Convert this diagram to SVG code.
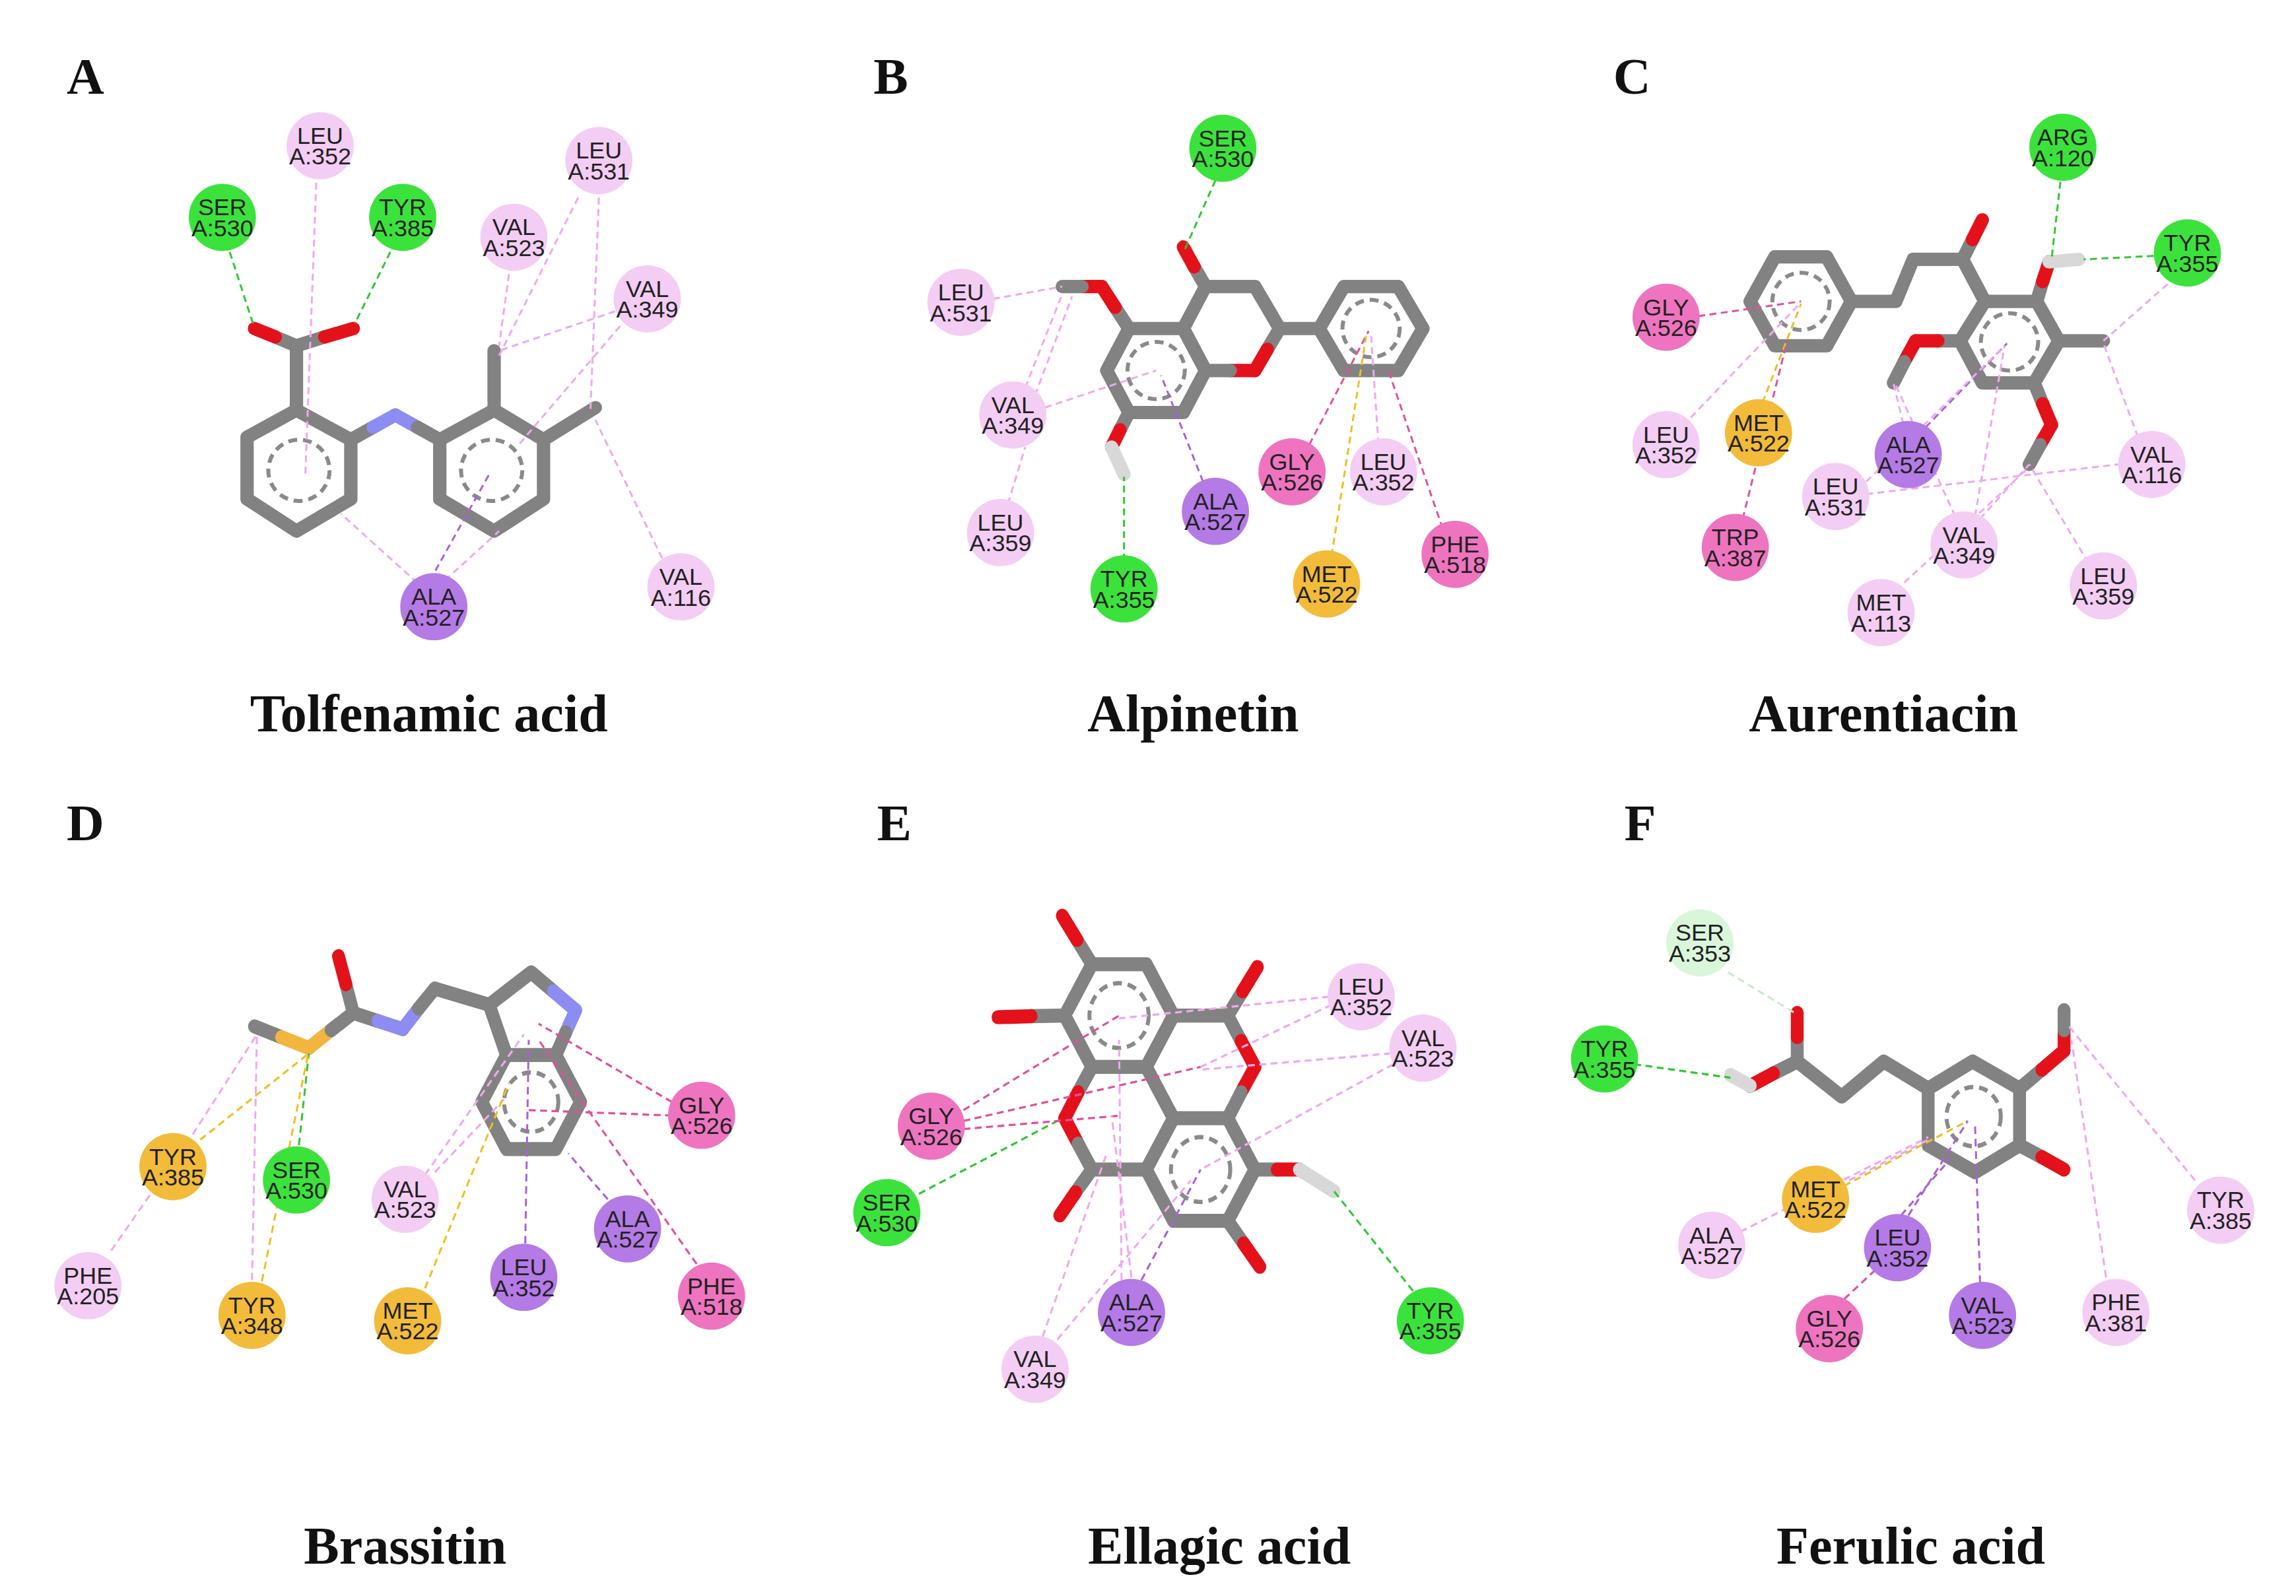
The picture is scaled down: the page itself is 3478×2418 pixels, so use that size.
<svg xmlns="http://www.w3.org/2000/svg" width="3478" height="2418" viewBox="0 0 3478 2418">
<style>
.stk{fill:none;stroke-linecap:round;stroke-linejoin:round}
.top .stk{stroke-width:27}.bot .stk{stroke-width:26}
.gy{stroke:#828282}.rd{stroke:#e3121a}.bl{stroke:#8c8cf2}.yl{stroke:#f2b640}.hh{stroke:#d8d8d8}
.ar{fill:none;stroke:#8a8a8a;stroke-dasharray:18 12;stroke-width:8}
.c{fill:none;stroke-dasharray:14 9;stroke-width:4}
.cg{stroke:#30c830}.cp{stroke:#f0a8ee}.cv{stroke:#a860dc}.ch{stroke:#e0509c}.co{stroke:#eec020}.cl{stroke:#c8ecc8}
.res text{font-family:"Liberation Sans",Arial,sans-serif;fill:#222;text-anchor:middle;font-size:48px}
.fg{fill:#3ce23c}.fp{fill:#f3cdf3}.fv{fill:#b47ae6}.fh{fill:#ee74bf}.fo{fill:#f2bb3a}.fl{fill:#daf6da}
.ttl{font-family:"Liberation Serif","Times New Roman",serif;font-weight:bold;fill:#111;text-anchor:middle;font-size:107px}
.let{font-family:"Liberation Serif","Times New Roman",serif;font-weight:bold;fill:#111;font-size:105px}
</style>
<rect width="3478" height="2418" fill="#fff"/>

<!-- Panel A -->
<g id="panelA" class="top" transform="translate(0,0) scale(0.7485)">
<text class="let" x="135" y="190">A</text>
<text class="ttl" x="868" y="1480">Tolfenamic acid</text>
<g id="molA">
<polygon class="stk gy" points="600,830 710,890 710,1010 600,1075 500,1010 500,885"/>
<polygon class="stk gy" points="890,890 1000,830 1100,890 1100,1010 1000,1075 890,1010"/>
<circle class="ar" cx="605" cy="952" r="62"/><circle class="ar" cx="995" cy="952" r="62"/>
<line class="stk gy" x1="600" y1="830" x2="600" y2="700"/>
<line class="stk gy" x1="600" y1="700" x2="557" y2="682"/><line class="stk rd" x1="557" y1="682" x2="515" y2="665"/>
<line class="stk gy" x1="600" y1="700" x2="657" y2="682"/><line class="stk rd" x1="657" y1="682" x2="715" y2="665"/>
<line class="stk gy" x1="710" y1="890" x2="755" y2="865"/><line class="stk bl" x1="755" y1="865" x2="800" y2="840"/>
<line class="stk bl" x1="800" y1="840" x2="845" y2="865"/><line class="stk gy" x1="845" y1="865" x2="890" y2="890"/>
<line class="stk gy" x1="1000" y1="830" x2="1000" y2="710"/>
<line class="stk gy" x1="1100" y1="890" x2="1205" y2="825"/>
</g>
<g id="connA">
<line class="c cg" x1="465" y1="510" x2="512" y2="655"/>
<line class="c cg" x1="790" y1="510" x2="718" y2="655"/>
<line class="c cp" x1="640" y1="370" x2="618" y2="960"/>
<line class="c cp" x1="1030" y1="555" x2="1010" y2="700"/>
<line class="c cp" x1="1170" y1="400" x2="1010" y2="720"/>
<line class="c cp" x1="1212" y1="400" x2="1195" y2="830"/>
<line class="c cp" x1="1245" y1="630" x2="1010" y2="710"/>
<line class="c cp" x1="1255" y1="660" x2="1050" y2="900"/>
<line class="c cp" x1="845" y1="1180" x2="690" y2="1040"/>
<line class="c cv" x1="870" y1="1175" x2="990" y2="960"/>
<line class="c cp" x1="900" y1="1175" x2="1010" y2="1075"/>
<line class="c cp" x1="1340" y1="1130" x2="1205" y2="850"/>
</g>
<g id="A-LEU352" class="res" transform="translate(648,295)"><circle class="fp" r="68"/><text y="-4">LEU</text><text y="38">A:352</text></g>
<g id="A-SER530" class="res" transform="translate(450,440)"><circle class="fg" r="68"/><text y="-4">SER</text><text y="38">A:530</text></g>
<g id="A-TYR385" class="res" transform="translate(815,440)"><circle class="fg" r="68"/><text y="-4">TYR</text><text y="38">A:385</text></g>
<g id="A-VAL523" class="res" transform="translate(1040,480)"><circle class="fp" r="68"/><text y="-4">VAL</text><text y="38">A:523</text></g>
<g id="A-LEU531" class="res" transform="translate(1212,325)"><circle class="fp" r="68"/><text y="-4">LEU</text><text y="38">A:531</text></g>
<g id="A-VAL349" class="res" transform="translate(1310,605)"><circle class="fp" r="68"/><text y="-4">VAL</text><text y="38">A:349</text></g>
<g id="A-ALA527" class="res" transform="translate(878,1228)"><circle class="fv" r="68"/><text y="-4">ALA</text><text y="38">A:527</text></g>
<g id="A-VAL116" class="res" transform="translate(1378,1188)"><circle class="fp" r="68"/><text y="-4">VAL</text><text y="38">A:116</text></g>
</g>

<!-- Panel B -->
<g id="panelB" class="top" transform="translate(1160,0) scale(0.7485)">
<text class="let" x="218" y="190">B</text>
<text class="ttl" x="865" y="1480">Alpinetin</text>
<g id="molB">
<polygon class="stk gy" points="735,665 845,665 890,750 845,835 735,835 690,750"/>
<polyline class="stk gy" points="890,750 845,665 890,580 990,580 1040,665"/>
<line class="stk gy" x1="1040" y1="665" x2="1015" y2="707"/><line class="stk rd" x1="1015" y1="707" x2="990" y2="750"/>
<line class="stk rd" x1="990" y1="750" x2="940" y2="750"/><line class="stk gy" x1="940" y1="750" x2="890" y2="750"/>
<polygon class="stk gy" points="1120,665 1170,580 1280,580 1330,665 1280,750 1170,750"/>
<line class="stk gy" x1="1040" y1="665" x2="1120" y2="665"/>
<line class="stk gy" x1="890" y1="580" x2="867" y2="540"/><line class="stk rd" x1="867" y1="540" x2="845" y2="500"/>
<line class="stk gy" x1="735" y1="665" x2="707" y2="622"/><line class="stk rd" x1="707" y1="622" x2="680" y2="580"/>
<line class="stk rd" x1="680" y1="580" x2="640" y2="580"/><line class="stk gy" x1="640" y1="580" x2="600" y2="580"/>
<line class="stk gy" x1="735" y1="835" x2="717" y2="870"/><line class="stk rd" x1="717" y1="870" x2="700" y2="905"/>
<line class="stk hh" x1="700" y1="905" x2="725" y2="960"/>
<circle class="ar" cx="790" cy="750" r="58"/><circle class="ar" cx="1225" cy="665" r="58"/>
</g>
<g id="connB">
<line class="c cg" x1="910" y1="365" x2="848" y2="505"/>
<line class="c cg" x1="725" y1="1135" x2="725" y2="965"/>
<line class="c cp" x1="460" y1="605" x2="600" y2="580"/>
<line class="c cp" x1="525" y1="785" x2="600" y2="595"/>
<line class="c cp" x1="545" y1="800" x2="620" y2="600"/>
<line class="c cp" x1="565" y1="825" x2="790" y2="750"/>
<line class="c cp" x1="490" y1="1020" x2="525" y2="905"/>
<line class="c cv" x1="885" y1="975" x2="800" y2="760"/>
<line class="c ch" x1="1100" y1="900" x2="1220" y2="670"/>
<line class="c cp" x1="1240" y1="900" x2="1225" y2="680"/>
<line class="c co" x1="1145" y1="1125" x2="1215" y2="680"/>
<line class="c ch" x1="1370" y1="1070" x2="1260" y2="750"/>
</g>
<g id="B-SER530" class="res" transform="translate(925,300)"><circle class="fg" r="68"/><text y="-4">SER</text><text y="38">A:530</text></g>
<g id="B-LEU531" class="res" transform="translate(395,612)"><circle class="fp" r="68"/><text y="-4">LEU</text><text y="38">A:531</text></g>
<g id="B-VAL349" class="res" transform="translate(500,840)"><circle class="fp" r="68"/><text y="-4">VAL</text><text y="38">A:349</text></g>
<g id="B-LEU359" class="res" transform="translate(475,1078)"><circle class="fp" r="68"/><text y="-4">LEU</text><text y="38">A:359</text></g>
<g id="B-TYR355" class="res" transform="translate(725,1192)"><circle class="fg" r="68"/><text y="-4">TYR</text><text y="38">A:355</text></g>
<g id="B-ALA527" class="res" transform="translate(910,1035)"><circle class="fv" r="68"/><text y="-4">ALA</text><text y="38">A:527</text></g>
<g id="B-GLY526" class="res" transform="translate(1065,955)"><circle class="fh" r="68"/><text y="-4">GLY</text><text y="38">A:526</text></g>
<g id="B-LEU352" class="res" transform="translate(1250,955)"><circle class="fp" r="68"/><text y="-4">LEU</text><text y="38">A:352</text></g>
<g id="B-MET522" class="res" transform="translate(1135,1182)"><circle class="fo" r="68"/><text y="-4">MET</text><text y="38">A:522</text></g>
<g id="B-PHE518" class="res" transform="translate(1395,1122)"><circle class="fh" r="68"/><text y="-4">PHE</text><text y="38">A:518</text></g>
</g>

<!-- Panel C -->
<g id="panelC" class="top" transform="translate(2318,0) scale(0.7485)">
<text class="let" x="168" y="190">C</text>
<text class="ttl" x="715" y="1480">Aurentiacin</text>
<g id="molC">
<polygon class="stk gy" points="495,520 600,520 650,610 600,700 495,700 445,610"/>
<polyline class="stk gy" points="650,610 740,610 775,525 875,525 920,610"/>
<line class="stk gy" x1="875" y1="525" x2="895" y2="485"/><line class="stk rd" x1="895" y1="485" x2="915" y2="445"/>
<polygon class="stk gy" points="920,610 1025,610 1070,690 1020,775 915,775 870,690"/>
<line class="stk gy" x1="1025" y1="610" x2="1037" y2="570"/><line class="stk rd" x1="1037" y1="570" x2="1050" y2="530"/>
<line class="stk hh" x1="1050" y1="530" x2="1110" y2="525"/>
<line class="stk gy" x1="1070" y1="690" x2="1160" y2="690"/>
<line class="stk gy" x1="1020" y1="775" x2="1037" y2="817"/><line class="stk rd" x1="1037" y1="817" x2="1055" y2="860"/>
<line class="stk rd" x1="1055" y1="860" x2="1032" y2="900"/><line class="stk gy" x1="1032" y1="900" x2="1010" y2="940"/>
<line class="stk gy" x1="870" y1="690" x2="825" y2="690"/><line class="stk rd" x1="825" y1="690" x2="780" y2="690"/>
<line class="stk rd" x1="780" y1="690" x2="757" y2="732"/><line class="stk gy" x1="757" y1="732" x2="735" y2="775"/>
<circle class="ar" cx="548" cy="610" r="58"/><circle class="ar" cx="970" cy="692" r="58"/>
</g>
<g id="connC">
<line class="c cg" x1="1073" y1="368" x2="1055" y2="525"/>
<line class="c cg" x1="1262" y1="518" x2="1120" y2="525"/>
<line class="c cp" x1="1290" y1="575" x2="1160" y2="690"/>
<line class="c ch" x1="340" y1="640" x2="548" y2="610"/>
<line class="c cp" x1="325" y1="845" x2="548" y2="612"/>
<line class="c co" x1="470" y1="815" x2="548" y2="615"/>
<line class="c ch" x1="430" y1="1050" x2="520" y2="690"/>
<line class="c cv" x1="800" y1="865" x2="965" y2="695"/>
<line class="c cp" x1="755" y1="858" x2="735" y2="775"/>
<line class="c cp" x1="680" y1="975" x2="960" y2="700"/>
<line class="c cp" x1="680" y1="1000" x2="1190" y2="940"/>
<line class="c cp" x1="900" y1="1045" x2="960" y2="700"/>
<line class="c cp" x1="910" y1="1050" x2="1010" y2="940"/>
<line class="c cp" x1="860" y1="1045" x2="740" y2="780"/>
<line class="c cp" x1="1230" y1="885" x2="1160" y2="695"/>
<line class="c cp" x1="1130" y1="1140" x2="1010" y2="940"/>
<line class="c cp" x1="740" y1="1195" x2="1010" y2="945"/>
</g>
<g id="C-ARG120" class="res" transform="translate(1078,298)"><circle class="fg" r="68"/><text y="-4">ARG</text><text y="38">A:120</text></g>
<g id="C-TYR355" class="res" transform="translate(1330,512)"><circle class="fg" r="68"/><text y="-4">TYR</text><text y="38">A:355</text></g>
<g id="C-GLY526" class="res" transform="translate(275,642)"><circle class="fh" r="68"/><text y="-4">GLY</text><text y="38">A:526</text></g>
<g id="C-LEU352" class="res" transform="translate(275,900)"><circle class="fp" r="68"/><text y="-4">LEU</text><text y="38">A:352</text></g>
<g id="C-MET522" class="res" transform="translate(462,876)"><circle class="fo" r="68"/><text y="-4">MET</text><text y="38">A:522</text></g>
<g id="C-ALA527" class="res" transform="translate(765,920)"><circle class="fv" r="68"/><text y="-4">ALA</text><text y="38">A:527</text></g>
<g id="C-LEU531" class="res" transform="translate(618,1005)"><circle class="fp" r="68"/><text y="-4">LEU</text><text y="38">A:531</text></g>
<g id="C-TRP387" class="res" transform="translate(415,1108)"><circle class="fh" r="68"/><text y="-4">TRP</text><text y="38">A:387</text></g>
<g id="C-VAL349" class="res" transform="translate(878,1103)"><circle class="fp" r="68"/><text y="-4">VAL</text><text y="38">A:349</text></g>
<g id="C-VAL116" class="res" transform="translate(1258,940)"><circle class="fp" r="68"/><text y="-4">VAL</text><text y="38">A:116</text></g>
<g id="C-LEU359" class="res" transform="translate(1160,1186)"><circle class="fp" r="68"/><text y="-4">LEU</text><text y="38">A:359</text></g>
<g id="C-MET113" class="res" transform="translate(710,1240)"><circle class="fp" r="68"/><text y="-4">MET</text><text y="38">A:113</text></g>
</g>

<!-- Panel D -->
<g id="panelD">
<g class="bot" transform="translate(0,1150) scale(0.7485,0.8183)">
<g id="molD">
<line class="stk gy" x1="515" y1="495" x2="570" y2="515"/><line class="stk yl" x1="570" y1="515" x2="625" y2="535"/>
<line class="stk yl" x1="625" y1="535" x2="670" y2="502"/><line class="stk gy" x1="670" y1="502" x2="715" y2="470"/>
<line class="stk gy" x1="715" y1="470" x2="700" y2="417"/><line class="stk rd" x1="700" y1="417" x2="685" y2="365"/>
<line class="stk gy" x1="715" y1="470" x2="765" y2="485"/><line class="stk bl" x1="765" y1="485" x2="815" y2="500"/>
<line class="stk bl" x1="815" y1="500" x2="847" y2="462"/><line class="stk gy" x1="847" y1="462" x2="880" y2="425"/>
<polyline class="stk gy" points="880,425 990,455 1075,395 1120,430"/>
<line class="stk bl" x1="1120" y1="430" x2="1165" y2="465"/>
<line class="stk bl" x1="1165" y1="465" x2="1145" y2="506"/><line class="stk gy" x1="1145" y1="506" x2="1125" y2="548"/>
<line class="stk gy" x1="990" y1="455" x2="1025" y2="548"/>
<polygon class="stk gy" points="975,635 1025,548 1125,548 1175,635 1125,722 1025,722"/>
<circle class="ar" cx="1075" cy="635" r="55"/>
</g>
<g id="connD">
<line class="c cp" x1="390" y1="695" x2="520" y2="510"/>
<line class="c co" x1="405" y1="705" x2="625" y2="545"/>
<line class="c cg" x1="605" y1="715" x2="625" y2="545"/>
<line class="c cp" x1="510" y1="965" x2="520" y2="510"/>
<line class="c co" x1="530" y1="967" x2="625" y2="540"/>
<line class="c cp" x1="225" y1="910" x2="305" y2="805"/>
<line class="c cp" x1="860" y1="770" x2="1060" y2="510"/>
<line class="c cp" x1="880" y1="765" x2="1020" y2="630"/>
<line class="c co" x1="860" y1="980" x2="1030" y2="600"/>
<line class="c cv" x1="1063" y1="897" x2="1070" y2="520"/>
<line class="c cv" x1="1230" y1="815" x2="1150" y2="730"/>
<line class="c ch" x1="1360" y1="635" x2="1090" y2="490"/>
<line class="c ch" x1="1360" y1="660" x2="1070" y2="650"/>
<line class="c ch" x1="1410" y1="935" x2="1090" y2="520"/>
</g>
</g>
<g class="top" transform="translate(0,1150) scale(0.7485)">
<text class="let" x="135" y="164">D</text>
<text class="ttl" x="820" y="1628">Brassitin</text>
<g id="D-TYR385" class="res" transform="translate(350,825)"><circle class="fo" r="68"/><text y="-4">TYR</text><text y="38">A:385</text></g>
<g id="D-SER530" class="res" transform="translate(600,852)"><circle class="fg" r="68"/><text y="-4">SER</text><text y="38">A:530</text></g>
<g id="D-PHE205" class="res" transform="translate(178,1066)"><circle class="fp" r="68"/><text y="-4">PHE</text><text y="38">A:205</text></g>
<g id="D-TYR348" class="res" transform="translate(510,1126)"><circle class="fo" r="68"/><text y="-4">TYR</text><text y="38">A:348</text></g>
<g id="D-VAL523" class="res" transform="translate(820,891)"><circle class="fp" r="68"/><text y="-4">VAL</text><text y="38">A:523</text></g>
<g id="D-MET522" class="res" transform="translate(825,1137)"><circle class="fo" r="68"/><text y="-4">MET</text><text y="38">A:522</text></g>
<g id="D-LEU352" class="res" transform="translate(1060,1049)"><circle class="fv" r="68"/><text y="-4">LEU</text><text y="38">A:352</text></g>
<g id="D-ALA527" class="res" transform="translate(1270,951)"><circle class="fv" r="68"/><text y="-4">ALA</text><text y="38">A:527</text></g>
<g id="D-GLY526" class="res" transform="translate(1420,721)"><circle class="fh" r="68"/><text y="-4">GLY</text><text y="38">A:526</text></g>
<g id="D-PHE518" class="res" transform="translate(1440,1087)"><circle class="fh" r="68"/><text y="-4">PHE</text><text y="38">A:518</text></g>
</g>
</g>

<!-- Panel E -->
<g id="panelE">
<g class="bot" transform="translate(1160,1150) scale(0.7485,0.8183)">
<g id="molE">
<polygon class="stk gy" points="660,380 770,380 825,475 770,570 660,570 605,475"/>
<polygon class="stk gy" points="825,665 935,665 990,760 935,855 825,855 770,760"/>
<line class="stk gy" x1="825" y1="475" x2="935" y2="475"/>
<line class="stk gy" x1="935" y1="475" x2="962" y2="522"/><line class="stk rd" x1="962" y1="522" x2="990" y2="570"/>
<line class="stk rd" x1="990" y1="570" x2="962" y2="617"/><line class="stk gy" x1="962" y1="617" x2="935" y2="665"/>
<line class="stk gy" x1="770" y1="570" x2="825" y2="665"/>
<line class="stk gy" x1="660" y1="570" x2="632" y2="617"/><line class="stk rd" x1="632" y1="617" x2="605" y2="665"/>
<line class="stk rd" x1="605" y1="665" x2="632" y2="712"/><line class="stk gy" x1="632" y1="712" x2="660" y2="760"/>
<line class="stk gy" x1="660" y1="760" x2="770" y2="760"/>
<line class="stk gy" x1="660" y1="380" x2="630" y2="335"/><line class="stk rd" x1="630" y1="335" x2="600" y2="290"/>
<line class="stk gy" x1="605" y1="475" x2="537" y2="476"/><line class="stk rd" x1="537" y1="476" x2="470" y2="478"/>
<line class="stk gy" x1="935" y1="475" x2="965" y2="430"/><line class="stk rd" x1="965" y1="430" x2="995" y2="385"/>
<line class="stk gy" x1="660" y1="760" x2="627" y2="802"/><line class="stk rd" x1="627" y1="802" x2="595" y2="845"/>
<line class="stk gy" x1="990" y1="760" x2="1035" y2="760"/><line class="stk rd" x1="1035" y1="760" x2="1080" y2="760"/>
<line class="stk hh" x1="1080" y1="760" x2="1150" y2="800"/>
<line class="stk gy" x1="935" y1="855" x2="967" y2="897"/><line class="stk rd" x1="967" y1="897" x2="1000" y2="940"/>
<circle class="ar" cx="715" cy="475" r="60"/><circle class="ar" cx="880" cy="760" r="60"/>
</g>
<g id="connE">
<line class="c cg" x1="1310" y1="985" x2="1150" y2="800"/>
<line class="c cg" x1="310" y1="805" x2="590" y2="670"/>
<line class="c ch" x1="400" y1="650" x2="715" y2="475"/>
<line class="c ch" x1="400" y1="670" x2="880" y2="570"/>
<line class="c ch" x1="400" y1="685" x2="720" y2="660"/>
<line class="c cp" x1="1140" y1="440" x2="715" y2="480"/>
<line class="c cp" x1="1145" y1="455" x2="880" y2="570"/>
<line class="c cp" x1="1265" y1="545" x2="880" y2="575"/>
<line class="c cp" x1="1270" y1="565" x2="880" y2="760"/>
<line class="c cp" x1="720" y1="965" x2="715" y2="520"/>
<line class="c cv" x1="760" y1="965" x2="880" y2="760"/>
<line class="c cp" x1="740" y1="960" x2="700" y2="660"/>
<line class="c cp" x1="560" y1="1070" x2="690" y2="730"/>
<line class="c cp" x1="590" y1="1075" x2="860" y2="780"/>
</g>
</g>
<g class="top" transform="translate(1160,1150) scale(0.7485)">
<text class="let" x="225" y="164">E</text>
<text class="ttl" x="918" y="1628">Ellagic acid</text>
<g id="E-LEU352" class="res" transform="translate(1205,481)"><circle class="fp" r="68"/><text y="-4">LEU</text><text y="38">A:352</text></g>
<g id="E-VAL523" class="res" transform="translate(1330,585)"><circle class="fp" r="68"/><text y="-4">VAL</text><text y="38">A:523</text></g>
<g id="E-GLY526" class="res" transform="translate(335,743)"><circle class="fh" r="68"/><text y="-4">GLY</text><text y="38">A:526</text></g>
<g id="E-SER530" class="res" transform="translate(245,918)"><circle class="fg" r="68"/><text y="-4">SER</text><text y="38">A:530</text></g>
<g id="E-ALA527" class="res" transform="translate(740,1120)"><circle class="fv" r="68"/><text y="-4">ALA</text><text y="38">A:527</text></g>
<g id="E-VAL349" class="res" transform="translate(545,1235)"><circle class="fp" r="68"/><text y="-4">VAL</text><text y="38">A:349</text></g>
<g id="E-TYR355" class="res" transform="translate(1345,1137)"><circle class="fg" r="68"/><text y="-4">TYR</text><text y="38">A:355</text></g>
</g>
</g>

<!-- Panel F -->
<g id="panelF">
<g class="bot" transform="translate(2322,1150) scale(0.7485,0.8183)">
<g id="molF">
<line class="stk gy" x1="535" y1="560" x2="535" y2="515"/><line class="stk rd" x1="535" y1="515" x2="535" y2="470"/>
<line class="stk gy" x1="535" y1="560" x2="487" y2="582"/><line class="stk rd" x1="487" y1="582" x2="440" y2="605"/>
<line class="stk hh" x1="440" y1="605" x2="400" y2="585"/>
<polyline class="stk gy" points="535,560 625,625 710,560 800,610"/>
<polygon class="stk gy" points="800,610 890,560 985,610 985,715 895,765 800,715"/>
<line class="stk gy" x1="985" y1="610" x2="1030" y2="575"/><line class="stk rd" x1="1030" y1="575" x2="1075" y2="540"/>
<line class="stk rd" x1="1075" y1="540" x2="1075" y2="502"/><line class="stk gy" x1="1075" y1="502" x2="1075" y2="465"/>
<line class="stk gy" x1="985" y1="715" x2="1030" y2="737"/><line class="stk rd" x1="1030" y1="737" x2="1075" y2="760"/>
<circle class="ar" cx="892" cy="662" r="55"/>
</g>
<g id="connF">
<line class="c cl" x1="395" y1="395" x2="530" y2="470"/>
<line class="c cg" x1="205" y1="565" x2="400" y2="590"/>
<line class="c co" x1="630" y1="790" x2="880" y2="670"/>
<line class="c cp" x1="640" y1="780" x2="800" y2="705"/>
<line class="c cp" x1="420" y1="875" x2="800" y2="700"/>
<line class="c cv" x1="760" y1="845" x2="880" y2="670"/>
<line class="c cv" x1="745" y1="845" x2="845" y2="740"/>
<line class="c ch" x1="630" y1="1000" x2="700" y2="940"/>
<line class="c cv" x1="905" y1="970" x2="895" y2="680"/>
<line class="c cp" x1="1160" y1="960" x2="1090" y2="520"/>
<line class="c cp" x1="1340" y1="780" x2="1085" y2="495"/>
</g>
</g>
<g class="top" transform="translate(2322,1150) scale(0.7485)">
<text class="let" x="185" y="164">F</text>
<text class="ttl" x="765" y="1628">Ferulic acid</text>
<g id="F-SER353" class="res" transform="translate(338,372)"><circle class="fl" r="68"/><text y="-4">SER</text><text y="38">A:353</text></g>
<g id="F-TYR355" class="res" transform="translate(145,607)"><circle class="fg" r="68"/><text y="-4">TYR</text><text y="38">A:355</text></g>
<g id="F-MET522" class="res" transform="translate(572,891)"><circle class="fo" r="68"/><text y="-4">MET</text><text y="38">A:522</text></g>
<g id="F-ALA527" class="res" transform="translate(362,984)"><circle class="fp" r="68"/><text y="-4">ALA</text><text y="38">A:527</text></g>
<g id="F-LEU352" class="res" transform="translate(738,989)"><circle class="fv" r="68"/><text y="-4">LEU</text><text y="38">A:352</text></g>
<g id="F-GLY526" class="res" transform="translate(600,1153)"><circle class="fh" r="68"/><text y="-4">GLY</text><text y="38">A:526</text></g>
<g id="F-VAL523" class="res" transform="translate(910,1126)"><circle class="fv" r="68"/><text y="-4">VAL</text><text y="38">A:523</text></g>
<g id="F-PHE381" class="res" transform="translate(1180,1120)"><circle class="fp" r="68"/><text y="-4">PHE</text><text y="38">A:381</text></g>
<g id="F-TYR385" class="res" transform="translate(1392,913)"><circle class="fp" r="68"/><text y="-4">TYR</text><text y="38">A:385</text></g>
</g>
</g>
</svg>
